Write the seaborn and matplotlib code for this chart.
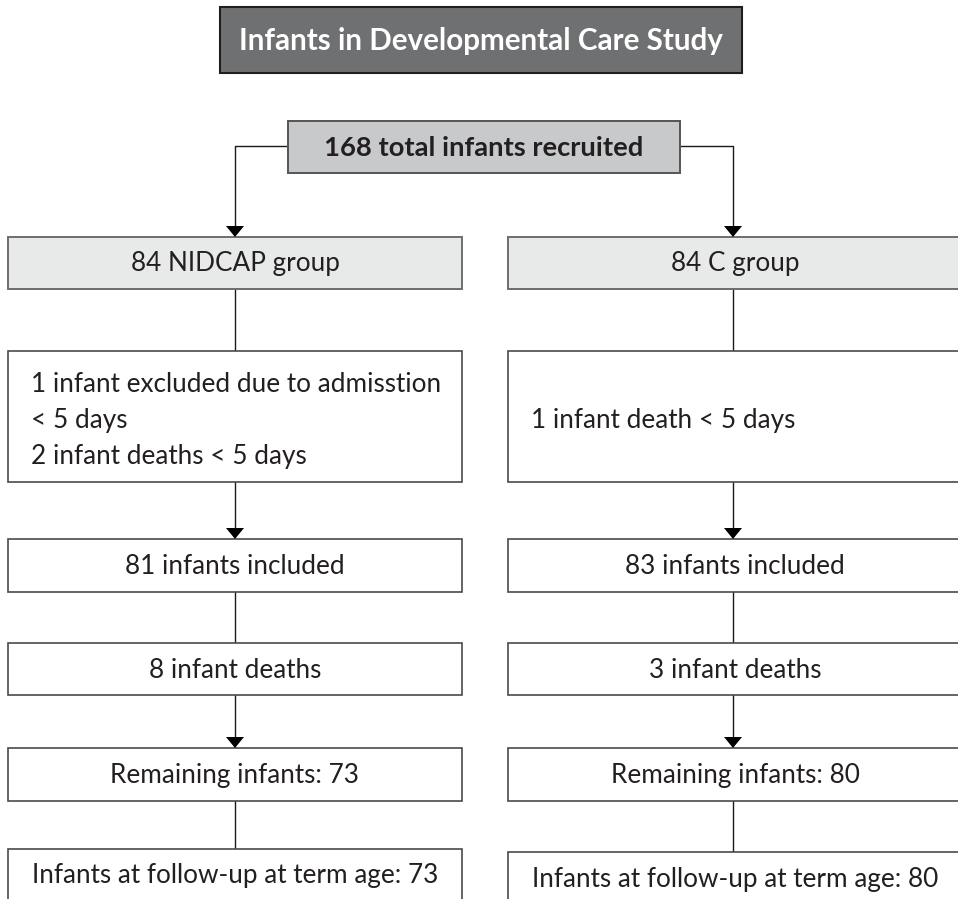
import matplotlib
matplotlib.use("Agg")
import matplotlib.pyplot as plt
from matplotlib.patches import Rectangle
import seaborn as sns
import pandas as pd

# ---------------- data ----------------
title = "Infants in Developmental Care Study"
total_recruited = 168
group_names = ["NIDCAP", "C"]
group_n = [84, 84]
included = [81, 83]
deaths = [8, 3]
remaining = [73, 80]
followup = [73, 80]
early_notes = [
    ["1 infant excluded due to admisstion", "< 5 days", "2 infant deaths < 5 days"],
    ["1 infant death < 5 days"],
]

# ---------------- style / layout ----------------
sns.set_theme(style="white")
FONT = ["Lato", "DejaVu Sans"]
plt.rcParams["font.family"] = FONT

W, H = 958, 899
fig = plt.figure(figsize=(W / 100, H / 100), dpi=100)
ax = fig.add_axes([0, 0, 1, 1])
ax.set_xlim(0, W)
ax.set_ylim(H, 0)
ax.axis("off")
renderer = fig.canvas.get_renderer()


def fit(text, weight, target):
    t = ax.text(0, 0, text, fontsize=20, fontweight=weight)
    w = t.get_window_extent(renderer).width
    t.remove()
    return 20 * target / w


fs_reg = fit("1 infant excluded due to admisstion", "normal", 411)
fs_title = fit(title, "bold", 485)
fs_top = fit(f"{total_recruited} total infants recruited", "bold", 319)

TXT = "#231f20"
LINE = "#1a1a1a"


def box(x0, y0, x1, y1, fc, ec, lw=1.2):
    ax.add_patch(Rectangle((x0, y0), x1 - x0, y1 - y0, facecolor=fc,
                           edgecolor=ec, lw=lw, zorder=2))


def arrowhead(x, ytip):
    ax.fill([x - 9, x + 9, x], [ytip - 11, ytip - 11, ytip], color="black",
            zorder=4, lw=0)


def segs(points_list):
    rows = []
    for k, pts in enumerate(points_list):
        for (x, y) in pts:
            rows.append({"x": x, "y": y, "seg": k})
    df = pd.DataFrame(rows)
    sns.lineplot(data=df, x="x", y="y", units="seg", estimator=None,
                 sort=False, color=LINE, lw=1.0, ax=ax, legend=False, zorder=1)
    ax.set_xlim(0, W)
    ax.set_ylim(H, 0)
    ax.axis("off")


# title
box(220, 7, 742, 73, "#6f7072", "#1e1e1e", 1.5)
ax.text(481, 41, title, ha="center", va="center", color="white",
        fontsize=fs_title, fontweight="bold", zorder=3)

# top box
box(288, 121, 680, 173, "#c8c9cb", "#555555", 1.4)
ax.text(484, 148, f"{total_recruited} total infants recruited", ha="center",
        va="center", color=TXT, fontsize=fs_top, fontweight="bold", zorder=3)

col_left = [8, 508]
col_w = 454
rows_y = [(237, 289), (351, 482), (539, 592), (643, 695), (748, 801)]
last_row = [(849, 901), (852, 904)]
arrow_into = [False, False, True, False, True, False]

lines = [
    [(288, 146), (235, 146), (235, 226)],
    [(680, 146), (733, 146), (733, 226)],
]
arrowhead(235, 237)
arrowhead(733, 237)

for g in range(2):
    x0 = col_left[g]
    x1 = x0 + col_w
    cx = 235 if g == 0 else 733
    ys = rows_y + [last_row[g]]
    labels = [
        f"{group_n[g]} {group_names[g]} group",
        None,
        f"{included[g]} infants included",
        f"{deaths[g]} infant deaths",
        f"Remaining infants: {remaining[g]}",
        f"Infants at follow-up at term age: {followup[g]}",
    ]
    for i, (ya, yb) in enumerate(ys):
        if i == 0:
            box(x0, ya, x1, yb, "#e8e9e9", "#6d6d6d", 1.4)
        else:
            box(x0, ya, x1, yb, "white", "#4a4a4a", 1.2)
        if labels[i] is not None:
            ax.text((x0 + x1) / 2, (ya + yb) / 2 + 1, labels[i], ha="center",
                    va="center", color=TXT, fontsize=fs_reg, zorder=3)
        else:
            note = "\n".join(early_notes[g])
            ax.text(x0 + 23, (ya + yb) / 2 + 4, note, ha="left", va="center",
                    color=TXT, fontsize=fs_reg, linespacing=1.55, zorder=3)
        if i > 0:
            top_prev = ys[i - 1][1]
            if arrow_into[i]:
                lines.append([(cx, top_prev), (cx, ya - 11)])
                arrowhead(cx, ya)
            else:
                lines.append([(cx, top_prev), (cx, ya)])

segs(lines)

fig.savefig("out.png", dpi=100, facecolor="white")
